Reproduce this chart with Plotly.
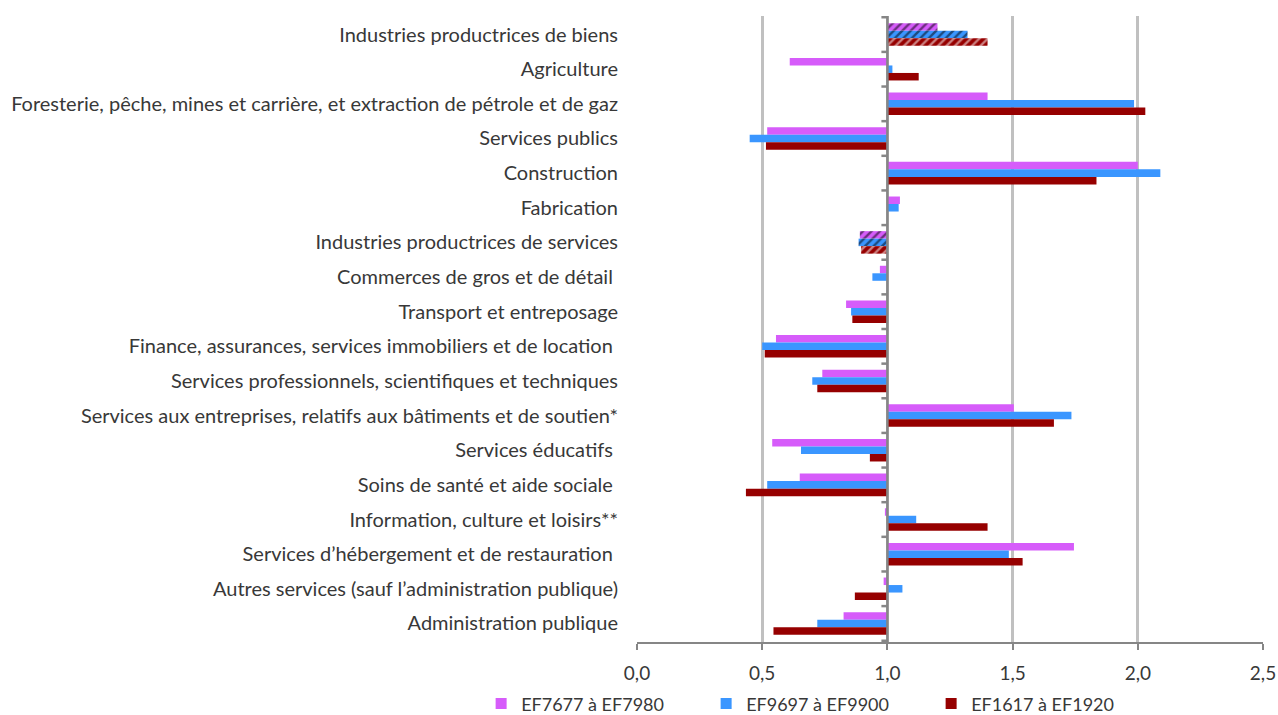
import plotly.graph_objects as go

# Industry categories, listed top to bottom
categories = [
    "Industries productrices de biens",
    "Agriculture",
    "Foresterie, pêche, mines et carrière, et extraction de pétrole et de gaz",
    "Services publics",
    "Construction",
    "Fabrication",
    "Industries productrices de services",
    "Commerces de gros et de détail ",
    "Transport et entreposage",
    "Finance, assurances, services immobiliers et de location ",
    "Services professionnels, scientifiques et techniques",
    "Services aux entreprises, relatifs aux bâtiments et de soutien*",
    "Services éducatifs ",
    "Soins de santé et aide sociale ",
    "Information, culture et loisirs**",
    "Services d’hébergement et de restauration ",
    "Autres services (sauf l’administration publique)",
    "Administration publique",
]

# Ratios for each period (1,0 = reference level)
ef7677_7980 = [1.20, 0.61, 1.40, 0.52, 2.00, 1.05, 0.89, 0.97, 0.835, 0.555,
               0.74, 1.505, 0.54, 0.65, 0.99, 1.745, 0.985, 0.825]
ef9697_9900 = [1.32, 1.02, 1.985, 0.45, 2.09, 1.045, 0.885, 0.94, 0.855, 0.50,
               0.70, 1.735, 0.655, 0.52, 1.115, 1.485, 1.06, 0.72]
ef1617_1920 = [1.40, 1.125, 2.03, 0.515, 1.835, 1.00, 0.895, 1.00, 0.86, 0.51,
               0.72, 1.665, 0.93, 0.435, 1.40, 1.54, 0.87, 0.545]

series_names = ["EF7677 à EF7980", "EF9697 à EF9900", "EF1617 à EF1920"]
series_values = [ef7677_7980, ef9697_9900, ef1617_1920]
colors = ["#D65CFA", "#3A96FF", "#960000"]
hatch_fg = ["#000000", "#000000", "#FFFFFF"]

# Aggregate rows are drawn hatched
aggregates = {"Industries productrices de biens", "Industries productrices de services"}

BASE = 1.0
FONT = "Lato"
TEXT = "#383838"
AXIS = "#868686"
GRID = "#C0C0C0"

fig = go.Figure()

for name, vals, col, fg in zip(series_names, series_values, colors, hatch_fg):
    shapes = ["/" if c in aggregates else "" for c in categories]
    fig.add_trace(go.Bar(
        y=categories,
        x=[v - BASE for v in vals],
        base=BASE,
        orientation="h",
        name=name,
        showlegend=False,
        marker=dict(
            color=col,
            line=dict(width=0),
            pattern=dict(shape=shapes, fillmode="overlay", bgcolor=col,
                         fgcolor=fg, size=6, solidity=0.4),
        ),
    ))

# Plain legend swatches
for name, col in zip(series_names, colors):
    fig.add_trace(go.Scatter(
        x=[None], y=[None], mode="markers", name=name,
        marker=dict(symbol="square", size=11, color=col),
    ))

# Category axis drawn at the 1,0 level with boundary ticks
tick_len = 6 / 250.2
shapes = [dict(type="line", xref="x", yref="paper", x0=BASE, x1=BASE, y0=0, y1=1,
               line=dict(color=AXIS, width=2.5), layer="above")]
for i in range(len(categories) + 1):
    shapes.append(dict(type="line", xref="x", yref="y", x0=BASE - tick_len, x1=BASE,
                       y0=i - 0.5, y1=i - 0.5, line=dict(color=AXIS, width=2.5),
                       layer="above"))

fig.update_layout(
    width=1278, height=715,
    margin=dict(l=637, r=15, t=16, b=73, autoexpand=False),
    paper_bgcolor="white", plot_bgcolor="white",
    barmode="group", bargap=0.35, bargroupgap=0,
    separators=", ",
    font=dict(family=FONT, size=20, color=TEXT),
    shapes=shapes,
    legend=dict(orientation="h", x=-0.249, xanchor="left",
                y=-0.0692, yanchor="top",
                entrywidth=180, entrywidthmode="pixels",
                font=dict(size=18, color=TEXT), itemclick=False,
                bgcolor="rgba(0,0,0,0)"),
    xaxis=dict(range=[0, 2.5], dtick=0.5, tick0=0, tickformat=".1f",
               showgrid=True, gridcolor=GRID, gridwidth=2.5, zeroline=False,
               showline=True, linecolor=AXIS, linewidth=2, automargin=False,
               ticks="outside", ticklen=6, tickwidth=2, tickcolor=AXIS,
               ticklabelstandoff=7, tickfont=dict(size=19, color=TEXT)),
    yaxis=dict(autorange="reversed", showgrid=False, zeroline=False, showline=False,
               automargin=False, ticks="", ticklabelstandoff=18,
               tickfont=dict(size=20, color=TEXT)),
)

fig.write_html("out.html")
